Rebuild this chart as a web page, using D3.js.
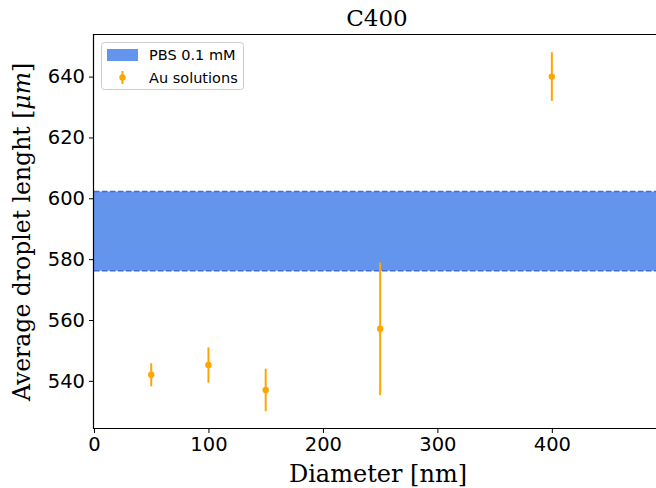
<!DOCTYPE html>
<html>
<head>
<meta charset="utf-8">
<script src="https://cdn.jsdelivr.net/npm/d3@7"></script>
<style>
  body { margin: 0; background: #fff; }
  svg { display: block; }
</style>
</head>
<body>
<script>
// data
const diameters = [50, 100, 150, 250, 400];
const lengths = [542, 545.2, 537, 557.1, 640];
const errors = [3.8, 5.8, 7, 21.8, 8];
const pbsMean = 589.2;
const pbsErr = 13;
const xTicks = [0, 100, 200, 300, 400];
const yTicks = [540, 560, 580, 600, 620, 640];

const width = 656, height = 488;
const margin = { top: 34, right: 0, bottom: 60, left: 94 };

const svg = d3.select('body').append('svg')
    .attr('width', width)
    .attr('height', height);

const x = d3.scaleLinear()
    .domain([0, 491])
    .range([margin.left, width - margin.right]);

const y = d3.scaleLinear()
    .domain([524.5, 654])
    .range([height - margin.bottom, margin.top]);

// PBS band
svg.append('rect')
    .attr('x', x(0))
    .attr('y', y(pbsMean + pbsErr))
    .attr('width', x(491) - x(0))
    .attr('height', y(pbsMean - pbsErr) - y(pbsMean + pbsErr))
    .attr('fill', '#6495ed');

[pbsMean + pbsErr, pbsMean - pbsErr].forEach(v => {
  svg.append('line')
      .attr('x1', x(0)).attr('x2', x(491))
      .attr('y1', y(v)).attr('y2', y(v))
      .attr('stroke', '#4169e1')
      .attr('stroke-width', 1.5)
      .attr('stroke-dasharray', '5.5,2.5');
});

// error bars
const pts = diameters.map((d, i) => ({ d: d, v: lengths[i], e: errors[i] }));

svg.selectAll('.err')
  .data(pts)
  .join('line')
    .attr('class', 'err')
    .attr('x1', p => x(p.d)).attr('x2', p => x(p.d))
    .attr('y1', p => y(p.v - p.e)).attr('y2', p => y(p.v + p.e))
    .attr('stroke', '#ffa500')
    .attr('stroke-width', 2);

svg.selectAll('.pt')
  .data(pts)
  .join('circle')
    .attr('class', 'pt')
    .attr('cx', p => x(p.d))
    .attr('cy', p => y(p.v))
    .attr('r', 3.2)
    .attr('fill', '#ffa500');

// axes
const xAxis = svg.append('g')
    .attr('transform', 'translate(0,' + (height - margin.bottom) + ')')
    .call(d3.axisBottom(x).tickValues(xTicks).tickSize(5).tickPadding(4));

const yAxis = svg.append('g')
    .attr('transform', 'translate(' + margin.left + ',0)')
    .call(d3.axisLeft(y).tickValues(yTicks).tickSize(5).tickPadding(4));

[xAxis, yAxis].forEach(a => {
  a.select('.domain').remove();
  a.selectAll('text')
      .attr('font-family', 'DejaVu Sans')
      .attr('font-size', 19.5)
      .attr('fill', '#000');
  a.selectAll('line').attr('stroke', '#000').attr('stroke-width', 1);
});

// spines: left, bottom, top
svg.append('path')
    .attr('d', 'M' + width + ',' + (margin.top + 0.5) + 'H' + (margin.left - 0.5) +
               'V' + (height - margin.bottom + 0.5) + 'H' + width)
    .attr('fill', 'none')
    .attr('stroke', '#000')
    .attr('stroke-width', 1.2);

// title and labels
svg.append('text')
    .attr('x', 377).attr('y', 26)
    .attr('text-anchor', 'middle')
    .attr('font-family', 'DejaVu Serif')
    .attr('font-size', 23)
    .text('C400');

svg.append('text')
    .attr('x', 378).attr('y', 482)
    .attr('text-anchor', 'middle')
    .attr('font-family', 'DejaVu Serif')
    .attr('font-size', 24)
    .text('Diameter [nm]');

const yl = svg.append('text')
    .attr('transform', 'translate(29.5,' + 232 + ') rotate(-90)')
    .attr('text-anchor', 'middle')
    .attr('font-family', 'DejaVu Serif')
    .attr('font-size', 23.5);
yl.append('tspan').text('Average droplet lenght [');
yl.append('tspan').attr('font-style', 'italic').text('μm');
yl.append('tspan').text(']');

// legend
const lg = svg.append('g');
lg.append('rect')
    .attr('x', 101.5).attr('y', 42.5)
    .attr('width', 142).attr('height', 47)
    .attr('rx', 3)
    .attr('fill', '#fff').attr('fill-opacity', 0.8)
    .attr('stroke', '#ccc');
lg.append('rect')
    .attr('x', 107).attr('y', 49)
    .attr('width', 31).attr('height', 12)
    .attr('fill', '#6495ed');
lg.append('line')
    .attr('x1', 122.5).attr('x2', 122.5)
    .attr('y1', 71).attr('y2', 84)
    .attr('stroke', '#ffa500').attr('stroke-width', 2);
lg.append('circle')
    .attr('cx', 122.5).attr('cy', 77.5).attr('r', 3.2)
    .attr('fill', '#ffa500');
lg.append('text')
    .attr('x', 149).attr('y', 60)
    .attr('font-family', 'DejaVu Sans').attr('font-size', 14.5)
    .text('PBS 0.1 mM');
lg.append('text')
    .attr('x', 149).attr('y', 83)
    .attr('font-family', 'DejaVu Sans').attr('font-size', 14.5)
    .text('Au solutions');
</script>
</body>
</html>
